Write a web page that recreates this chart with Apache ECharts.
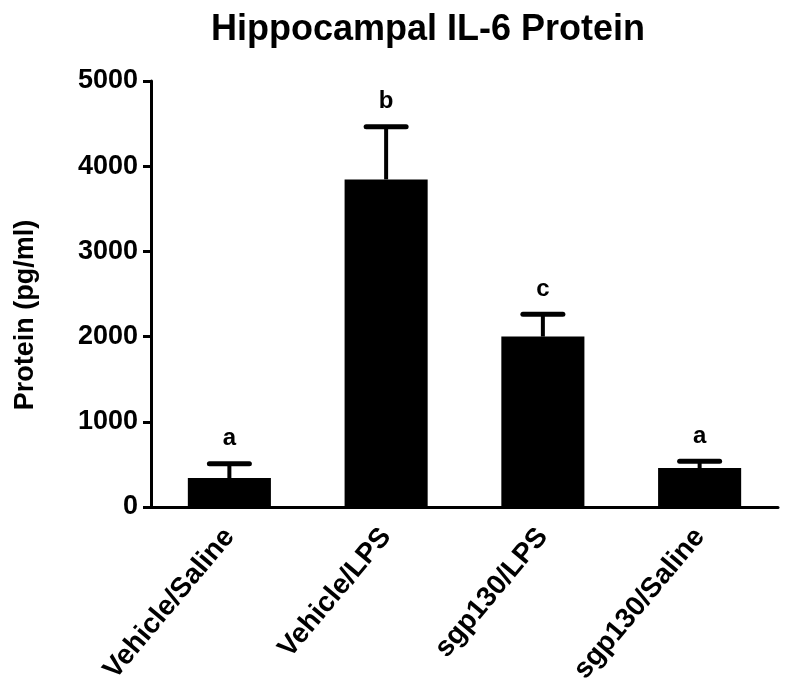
<!DOCTYPE html>
<html><head><meta charset="utf-8">
<script src="https://cdn.jsdelivr.net/npm/echarts@6/dist/echarts.min.js"></script>
<style>html,body{margin:0;padding:0;background:#fff}#c{width:788px;height:690px}</style>
</head><body><div id="c"></div>
<script>
const categories = ['Vehicle/Saline', 'Vehicle/LPS', 'sgp130/LPS', 'sgp130/Saline'];
const means = [340, 3845, 2000, 457];
const errors = [168, 617, 263, 80];
const letters = ['a', 'b', 'c', 'a'];
const yTicks = [0, 1000, 2000, 3000, 4000, 5000];

const F = '"Liberation Sans", Arial, Helvetica, sans-serif';
const chart = echarts.init(document.getElementById('c'));
chart.setOption({
  backgroundColor: '#fff',
  animation: false,
  title: {
    text: 'Hippocampal IL-6 Protein', left: 423, top: 7, textAlign: 'center',
    textStyle: { fontFamily: F, fontWeight: 'bold', fontSize: 36, color: '#000' }
  },
  graphic: [{
    type: 'text', x: 26, y: 315, rotation: Math.PI / 2,
    style: { text: 'Protein (pg/ml)', fill: '#000', font: 'bold 27px ' + F,
             textAlign: 'center', textVerticalAlign: 'middle' }
  }],
  grid: { left: 151, right: 10, top: 81, bottom: 183 },
  xAxis: {
    type: 'category', data: categories,
    axisLine: { lineStyle: { color: '#000', width: 3 } },
    axisTick: { alignWithLabel: true, length: 6, lineStyle: { color: '#000', width: 3 } },
    axisLabel: { rotate: 50, margin: 25, color: '#000', fontFamily: F, fontWeight: 'bold', fontSize: 28 }
  },
  yAxis: {
    type: 'value', min: yTicks[0], max: yTicks[yTicks.length - 1], interval: 1000,
    axisLine: { show: true, lineStyle: { color: '#000', width: 3 } },
    axisTick: { show: true, length: 8, lineStyle: { color: '#000', width: 3 } },
    axisLabel: { margin: 13, color: '#000', fontFamily: F, fontWeight: 'bold', fontSize: 27,
                 formatter: v => String(v) },
    splitLine: { show: false }
  },
  series: [
    {
      type: 'bar', data: means, barWidth: '53%',
      itemStyle: { color: '#000' }
    },
    {
      type: 'custom',
      data: means.map((m, i) => [i, m, errors[i]]),
      z: 5,
      renderItem: function (params, api) {
        const i = api.value(0), m = api.value(1), e = api.value(2);
        const base = api.coord([i, m]);
        const top = api.coord([i, m + e]);
        return {
          type: 'group',
          children: [
            { type: 'line', shape: { x1: base[0], y1: base[1], x2: top[0], y2: top[1] },
              style: { stroke: '#000', lineWidth: 4 } },
            { type: 'line', shape: { x1: top[0] - 20, y1: top[1], x2: top[0] + 20, y2: top[1] },
              style: { stroke: '#000', lineWidth: 5, lineCap: 'round' } },
            { type: 'text', x: top[0], y: top[1] - 13,
              style: { text: letters[params.dataIndex], fill: '#000', font: 'bold 24px ' + F,
                       textAlign: 'center', textVerticalAlign: 'bottom' } }
          ]
        };
      }
    }
  ]
});
</script></body></html>
